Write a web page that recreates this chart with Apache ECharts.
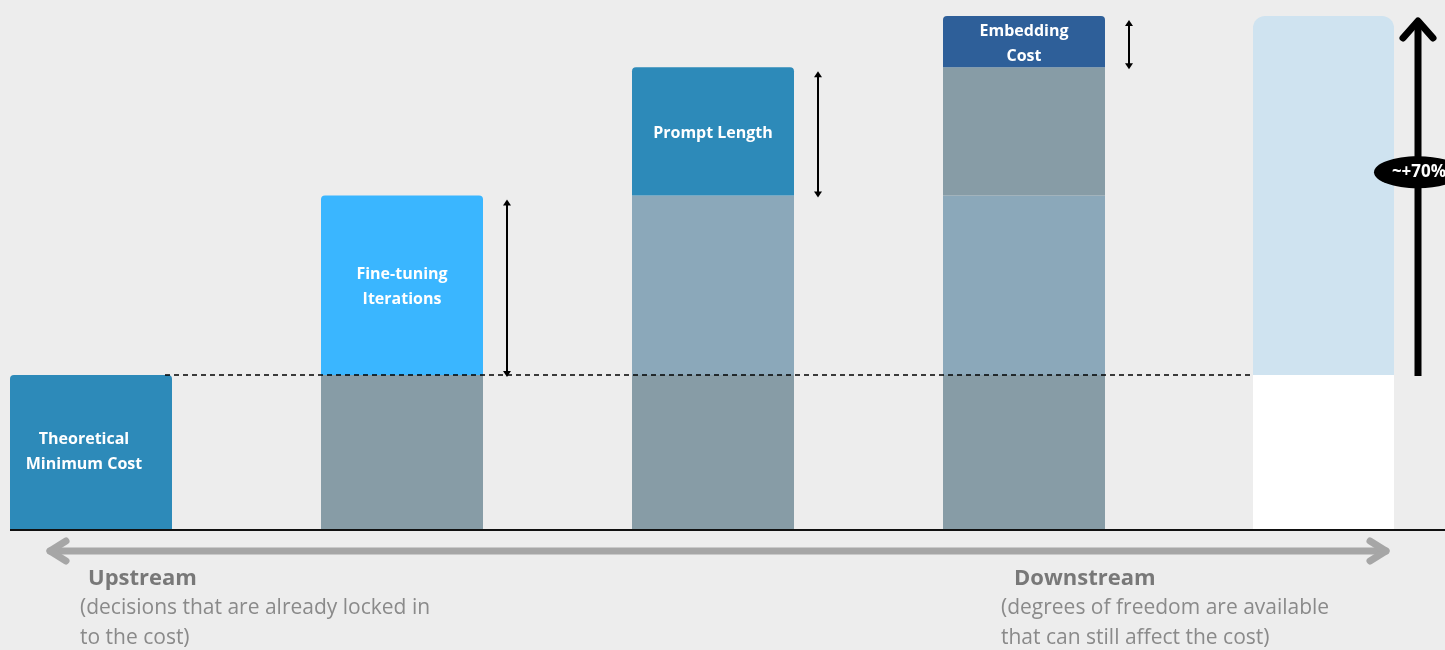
<!DOCTYPE html>
<html>
<head>
  <meta charset="UTF-8">
  <title>LLM cost drivers</title>
  <style>
    html, body { margin: 0; padding: 0; background: #ededed; }
    #main { width: 1445px; height: 650px; }
  </style>
</head>
<body>
  <div id="main"></div>
  <script src="https://cdn.jsdelivr.net/npm/echarts@6/dist/echarts.min.js"></script>
  <script type="text/javascript">
    // data
    var stages = ['Theoretical Minimum Cost', 'Fine-tuning Iterations', 'Prompt Length', 'Embedding Cost'];
    var stageLabels = ['Theoretical\nMinimum Cost', 'Fine-tuning\nIterations', 'Prompt Length', 'Embedding\nCost'];
    var baseCost = [30, 30, 30, 30];
    var fineTuning = ['-', 35, 35, 35];
    var promptLength = ['-', '-', 25, 25];
    var embedding = ['-', '-', '-', 10];
    var finalCategory = ['Total'];
    var finalBase = [30];
    var finalIncrease = [70];
    var increaseLabel = '~+70%';

    var layers = [baseCost, fineTuning, promptLength, embedding];
    // [colour when the layer is new, colour once it is settled]
    var layerColors = [
      ['#2d8ab9', '#879ca6'],
      ['#3ab6ff', '#8ba8ba'],
      ['#2d8ab9', '#879ca6'],
      ['#2e5f99', '#2e5f99']
    ];

    var chart = echarts.init(document.getElementById('main'));

    function buildLayer(values, k) {
      return values.map(function (v, i) {
        if (v === '-') return '-';
        var isNew = i === k;
        return {
          value: v,
          itemStyle: {
            color: isNew ? layerColors[k][0] : layerColors[k][1],
            borderRadius: isNew ? [4, 4, 0, 0] : 0
          }
        };
      });
    }

    // arrows next to each new layer: [category, from, to]
    var arrowData = [];
    for (var i = 1; i < stages.length; i++) {
      var from = 0;
      for (var k = 0; k < i; k++) from += layers[k][i];
      arrowData.push([i, from, from + layers[i][i]]);
    }

    function renderSmallArrow(params, api) {
      var cat = api.value(0);
      var x = api.coord([cat, 0])[0] + 81 + 24;
      var yLow = api.coord([cat, api.value(1)])[1] + 2;
      var yHigh = api.coord([cat, api.value(2)])[1] + 4;
      return {
        type: 'group',
        children: [
          { type: 'line', shape: { x1: x, y1: yLow - 4, x2: x, y2: yHigh + 4 }, style: { stroke: '#000', lineWidth: 2 } },
          { type: 'polygon', shape: { points: [[x - 4, yHigh + 6], [x + 4, yHigh + 6], [x, yHigh]] }, style: { fill: '#000' } },
          { type: 'polygon', shape: { points: [[x - 4, yLow - 6], [x + 4, yLow - 6], [x, yLow]] }, style: { fill: '#000' } }
        ]
      };
    }

    function renderBigArrow(params, api) {
      var x = api.coord([0, 0])[0] + 70.5 + 24;
      var low = api.value(1), high = api.value(2);
      var yLow = api.coord([0, low])[1] + 1;
      var yHigh = api.coord([0, high])[1] + 3;
      var yLabel = api.coord([0, low + (high - low) * 0.565])[1];
      return {
        type: 'group',
        children: [
          { type: 'line', shape: { x1: x, y1: yLow, x2: x, y2: yHigh + 2 }, style: { stroke: '#000', lineWidth: 7 } },
          { type: 'polyline', shape: { points: [[x - 15, yHigh + 19], [x, yHigh + 2], [x + 15, yHigh + 19]] },
            style: { stroke: '#000', lineWidth: 7, lineCap: 'round', lineJoin: 'round', fill: null } },
          { type: 'ellipse', shape: { cx: x, cy: yLabel, rx: 44, ry: 16 }, style: { fill: '#000' } },
          { type: 'text', style: { text: increaseLabel, x: x + 1, y: yLabel, fill: '#fff', font: 'bold 17px "Open Sans"', align: 'center', verticalAlign: 'middle' } }
        ]
      };
    }

    var labelStyle = {
      show: true,
      position: 'inside',
      color: '#fff',
      fontFamily: 'Open Sans',
      fontWeight: 'bold',
      fontSize: 16,
      lineHeight: 25
    };

    var series = layers.map(function (values, k) {
      var s = {
        name: stages[k],
        type: 'bar',
        stack: 'cost',
        xAxisIndex: 0,
        yAxisIndex: 0,
        barWidth: 162,
        data: buildLayer(values, k),
        label: Object.assign({}, labelStyle, {
          offset: k === 0 ? [-7, 0] : [0, 2],
          formatter: function (p) { return p.dataIndex === k ? stageLabels[k] : ''; }
        }),
        emphasis: { disabled: true }
      };
      if (k === 0) {
        s.markLine = {
          silent: true,
          symbol: 'none',
          animation: false,
          label: { show: false },
          lineStyle: { color: '#000', type: [5, 4], width: 1.5 },
          data: [[{ x: 165, yAxis: baseCost[0] }, { x: 1253, yAxis: baseCost[0] }]]
        };
      }
      return s;
    });

    series.push({
      type: 'custom',
      xAxisIndex: 0,
      yAxisIndex: 0,
      renderItem: renderSmallArrow,
      data: arrowData,
      z: 5,
      silent: true
    });

    series.push({
      type: 'bar',
      stack: 'total',
      xAxisIndex: 1,
      yAxisIndex: 1,
      barWidth: 141,
      data: finalBase,
      itemStyle: { color: '#ffffff' },
      emphasis: { disabled: true }
    });
    series.push({
      type: 'bar',
      stack: 'total',
      xAxisIndex: 1,
      yAxisIndex: 1,
      barWidth: 141,
      data: finalIncrease,
      itemStyle: { color: '#cfe3f0', borderRadius: [12, 12, 0, 0] },
      emphasis: { disabled: true }
    });
    series.push({
      type: 'custom',
      xAxisIndex: 1,
      yAxisIndex: 1,
      renderItem: renderBigArrow,
      data: [[0, finalBase[0], finalBase[0] + finalIncrease[0]]],
      z: 5,
      silent: true
    });

    var hiddenAxis = {
      axisLine: { show: false },
      axisTick: { show: false },
      axisLabel: { show: false },
      splitLine: { show: false }
    };

    var subStyle = { fill: '#8a8a8a', font: '21px "Open Sans"', verticalAlign: 'middle' };
    var headStyle = { fill: '#787878', font: 'bold 22px "Open Sans"', verticalAlign: 'middle' };

    var option = {
      backgroundColor: '#ededed',
      animation: false,
      grid: [
        { left: -64.5, right: 265.5, top: 16, bottom: 121, outerBoundsMode: 'none' },
        { left: 1253, right: 51, top: 16, bottom: 121, outerBoundsMode: 'none' }
      ],
      xAxis: [
        Object.assign({ type: 'category', gridIndex: 0, data: stages }, hiddenAxis),
        Object.assign({ type: 'category', gridIndex: 1, data: finalCategory }, hiddenAxis)
      ],
      yAxis: [
        Object.assign({ type: 'value', gridIndex: 0, min: 0, max: 100 }, hiddenAxis),
        Object.assign({ type: 'value', gridIndex: 1, min: 0, max: 100 }, hiddenAxis)
      ],
      series: series,
      graphic: [
        { type: 'line', shape: { x1: 10, y1: 530, x2: 1445, y2: 530 }, style: { stroke: '#111', lineWidth: 2 }, z: 10 },
        { type: 'line', shape: { x1: 50, y1: 551, x2: 1386, y2: 551 }, style: { stroke: '#a6a6a6', lineWidth: 7, lineCap: 'round' } },
        { type: 'polyline', shape: { points: [[66, 541], [50, 551], [66, 561]] }, style: { stroke: '#a6a6a6', lineWidth: 7, lineCap: 'round', lineJoin: 'round', fill: null } },
        { type: 'polyline', shape: { points: [[1370, 541], [1386, 551], [1370, 561]] }, style: { stroke: '#a6a6a6', lineWidth: 7, lineCap: 'round', lineJoin: 'round', fill: null } },
        { type: 'text', left: 88, top: 568, style: Object.assign({ text: 'Upstream' }, headStyle) },
        { type: 'text', left: 80, top: 598, style: Object.assign({ text: '(decisions that are already locked in' }, subStyle) },
        { type: 'text', left: 80, top: 628, style: Object.assign({ text: 'to the cost)' }, subStyle) },
        { type: 'text', left: 1014, top: 568, style: Object.assign({ text: 'Downstream' }, headStyle) },
        { type: 'text', left: 1001, top: 598, style: Object.assign({ text: '(degrees of freedom are available' }, subStyle) },
        { type: 'text', left: 1001, top: 628, style: Object.assign({ text: 'that can still affect the cost)' }, subStyle) }
      ]
    };

    chart.setOption(option);
  </script>
</body>
</html>
